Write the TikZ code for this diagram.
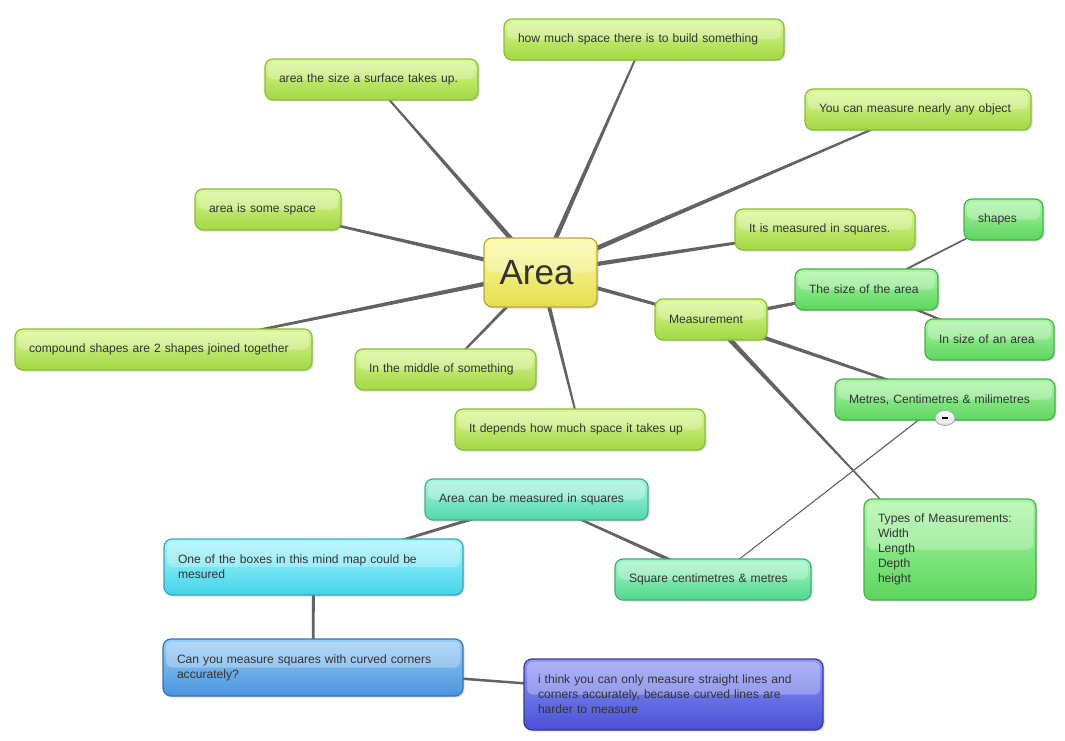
\documentclass[tikz,border=0pt]{standalone}
\usepackage{fontspec}
\setmainfont{Liberation Sans}
\usetikzlibrary{calc,shadows,backgrounds,shapes.geometric}
\definecolor{txt}{HTML}{333333}
\definecolor{conncol}{HTML}{636363}
\definecolor{limeT}{HTML}{DAF894}\definecolor{limeB}{HTML}{A2D842}\definecolor{limeD}{HTML}{8CBC3C}
\definecolor{yelT}{HTML}{FCFCA8}\definecolor{yelB}{HTML}{E6DE4E}\definecolor{yelD}{HTML}{B4A844}
\definecolor{grnT}{HTML}{ACF6A6}\definecolor{grnB}{HTML}{5CD65E}\definecolor{grnD}{HTML}{4AAE4C}
\definecolor{sqT}{HTML}{A6F6C6}\definecolor{sqB}{HTML}{52D88E}\definecolor{sqD}{HTML}{44AE74}
\definecolor{aqT}{HTML}{A6F6DE}\definecolor{aqB}{HTML}{52D8B0}\definecolor{aqD}{HTML}{44AE90}
\definecolor{cyT}{HTML}{AAF6FC}\definecolor{cyB}{HTML}{44D4EA}\definecolor{cyD}{HTML}{3AA4B8}
\definecolor{blT}{HTML}{98CCF6}\definecolor{blB}{HTML}{4A94DE}\definecolor{blD}{HTML}{3A72B0}
\definecolor{inT}{HTML}{9098F6}\definecolor{inB}{HTML}{4850D6}\definecolor{inD}{HTML}{3438A0}
\tikzset{
  box/.style={draw, rounded corners=8pt, line width=1.2pt, text=txt,
    font=\fontsize{12.1}{15}\selectfont, align=left, inner xsep=14pt, inner ysep=4pt,
    drop shadow={shadow xshift=1.5pt, shadow yshift=-1.5pt, opacity=0.25},
    path picture={\fill[white,opacity=0.28,rounded corners=6pt]
      ([xshift=3pt,yshift=-3pt]path picture bounding box.north west) rectangle
      ([xshift=-3pt]path picture bounding box.east);}},
  lime/.style={box, top color=limeT, bottom color=limeB, draw=limeD},
  yel/.style={box, top color=yelT, bottom color=yelB, draw=yelD},
  grn/.style={box, top color=grnT, bottom color=grnB, draw=grnD},
  sqc/.style={box, top color=sqT, bottom color=sqB, draw=sqD},
  aqc/.style={box, top color=aqT, bottom color=aqB, draw=aqD},
  cyc/.style={box, top color=cyT, bottom color=cyB, draw=cyD},
  blc/.style={box, top color=blT, bottom color=blB, draw=blD},
  inc/.style={box, top color=inT, bottom color=inB, draw=inD},
  conn/.style={fill=conncol}
}
\newcommand\taper[4]{\fill[conn] ($(#1)!#3!90:(#2)$) -- ($(#2)!#4!-90:(#1)$) -- ($(#2)!#4!90:(#1)$) -- ($(#1)!#3!-90:(#2)$) -- cycle;}
\begin{document}
\begin{tikzpicture}[x=1pt,y=-1pt]
\useasboundingbox (0,0) rectangle (1065,741);
% nodes
\node[yel, text width=85pt, minimum height=69pt, align=center, inner xsep=14pt, font=\fontsize{35}{40}\selectfont] (area) at (540.5,272.5) {\hspace*{-8pt}Area};
\node[lime, text width=252pt, minimum height=41pt] (n1) at (644,39.5) {how much space there is to build something};
\node[lime, text width=185pt, minimum height=41pt] (n2) at (371.5,79.5) {area the size a surface takes up.};
\node[lime, text width=198pt, minimum height=41pt] (n3) at (918,109.5) {You can measure nearly any object};
\node[lime, text width=118pt, minimum height=41pt] (n4) at (268,209.5) {area is some space};
\node[lime, text width=152pt, minimum height=41pt] (n5) at (825,229.5) {It is measured in squares.};
\node[lime, text width=269pt, minimum height=41pt] (n9) at (163.5,349.5) {compound shapes are 2 shapes joined together};
\node[lime, text width=153pt, minimum height=41pt] (n10) at (445.5,369.5) {In the middle of something};
\node[lime, text width=222pt, minimum height=41pt] (n11) at (580,429.5) {It depends how much space it takes up};
\node[lime, text width=84pt, minimum height=41pt] (meas) at (711,319.5) {Measurement};
\node[grn, text width=51pt, minimum height=41pt] (shapes) at (1003.5,219.5) {shapes};
\node[grn, text width=115pt, minimum height=41pt] (size) at (866.5,289.5) {The size of the area};
\node[grn, text width=101pt, minimum height=41pt] (insize) at (989.5,339.5) {In size of an area};
\node[grn, text width=192pt, minimum height=41pt] (metres) at (945,399.5) {Metres, Centimetres \& milimetres};
\node[grn, text width=144pt, minimum height=101pt] (types) at (950,549.5) {Types of Measurements:\\Width\\Length\\Depth\\height};
\coordinate (typestop) at (880,499);
\node[sqc, text width=168pt, minimum height=41pt] (sq) at (713,579.5) {Square centimetres \& metres};
\node[aqc, text width=195pt, minimum height=41pt] (acm) at (536.5,499.5) {Area can be measured in squares};
\node[cyc, text width=271pt, minimum height=56pt] (one) at (313.5,567) {One of the boxes in this mind map could be\\mesured};
\node[blc, text width=272pt, minimum height=57pt] (can) at (313,667.5) {Can you measure squares with curved corners\\accurately?};
\node[inc, text width=271pt, minimum height=71pt] (think) at (673.5,694.5) {i think you can only measure straight lines and\\corners accurately, because curved lines are\\harder to measure};
\node[ellipse, draw=gray!70, line width=0.8pt, top color=white, bottom color=gray!25, minimum width=20pt, minimum height=15pt, inner sep=0pt] (col) at (945,418) {\rule{6pt}{1.5pt}};
% connectors
\begin{pgfonlayer}{background}
\fill[white] (0,0) rectangle (1065,741);
\taper{area}{n1}{2.6pt}{0.8pt}
\taper{area}{n2}{2.6pt}{0.8pt}
\taper{area}{n3}{2.6pt}{0.8pt}
\taper{area}{n4}{2.4pt}{0.9pt}
\taper{area}{n5}{2.4pt}{1pt}
\taper{area}{n9}{2.4pt}{0.9pt}
\taper{area}{n10}{2pt}{0.8pt}
\taper{area}{n11}{2.2pt}{0.8pt}
\taper{area}{meas}{2.2pt}{1.2pt}
\taper{meas}{size}{2pt}{1.2pt}
\taper{meas}{metres}{2.2pt}{0.9pt}
\taper{meas}{typestop}{2.6pt}{0.6pt}
\taper{size}{shapes}{1.2pt}{0.6pt}
\taper{size}{insize}{1.4pt}{0.8pt}
\taper{metres}{sq}{0.6pt}{0.5pt}
\taper{sq}{acm}{2pt}{0.9pt}
\taper{acm}{one}{1.6pt}{1.2pt}
\taper{one}{can}{1.6pt}{1.3pt}
\taper{can}{think}{1.4pt}{1.1pt}
\end{pgfonlayer}
\end{tikzpicture}
\end{document}
